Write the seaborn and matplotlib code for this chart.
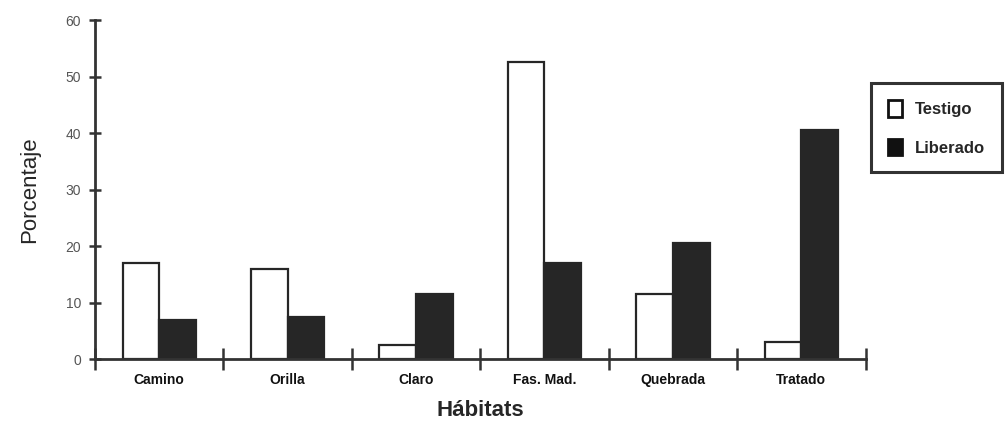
import pandas as pd
import numpy as np
import matplotlib
matplotlib.use('Agg')
import matplotlib.pyplot as plt
import seaborn as sns
from matplotlib.patches import Patch

# ── Data ──────────────────────────────────────────────────────────────────
habitats = ['Camino', 'Orilla', 'Claro', 'Fas. Mad.', 'Quebrada', 'Tratado']
testigo  = [17, 16, 2.5, 52.5, 11.5, 3]
liberado = [7, 7.5, 11.5, 17, 20.5, 40.5]
y_ticks  = [0, 10, 20, 30, 40, 50, 60]

df = pd.DataFrame({
    'habitat': habitats * 2,
    'grupo': ['Testigo'] * len(habitats) + ['Liberado'] * len(habitats),
    'pct': testigo + liberado,
})

sns.set_style('white')
plt.rcParams['font.family'] = ['Liberation Sans', 'DejaVu Sans']

fig = plt.figure(figsize=(10.06, 4.26), dpi=100)
ax = fig.add_axes([0.0944, 0.157, 0.766, 0.796])

sns.barplot(data=df, x='habitat', y='pct', hue='grupo', order=habitats,
            hue_order=['Testigo', 'Liberado'],
            palette={'Testigo': 'white', 'Liberado': '#262626'},
            width=0.57, gap=0, edgecolor='#262626', linewidth=1.6,
            legend=False, ax=ax)

ax.set_xlim(-0.5, len(habitats) - 0.5)
ax.set_ylim(0, 60)
ax.set_yticks(y_ticks)
ax.set_yticklabels([str(v) for v in y_ticks], fontsize=10, color='#555555')

# category labels on centers, tick marks on the boundaries
ax.tick_params(which='both', bottom=True, left=True)
ax.set_xticks(np.arange(len(habitats)))
ax.set_xticklabels(habitats, fontsize=10, fontweight='bold', color='#111111')
ax.tick_params(axis='x', which='major', length=0, pad=10)
ax.set_xticks(np.arange(-0.5, len(habitats)), minor=True)
ax.tick_params(axis='x', which='minor', direction='inout', length=16,
               width=1.8, color='#333333')
ax.tick_params(axis='y', direction='inout', length=8, width=1.8,
               color='#333333', pad=6)

for side in ['top', 'right']:
    ax.spines[side].set_visible(False)
for side in ['left', 'bottom']:
    ax.spines[side].set_linewidth(2)
    ax.spines[side].set_color('#333333')

ax.set_xlabel('Hábitats', fontsize=16, fontweight='bold', labelpad=9)
ax.set_ylabel('Porcentaje', fontsize=16, labelpad=18)

handles = [Patch(facecolor='white', edgecolor='#111111', linewidth=2, label='Testigo'),
           Patch(facecolor='#111111', edgecolor='#111111', linewidth=2, label='Liberado')]
leg = fig.legend(handles=handles, loc='upper left', bbox_to_anchor=(0.866, 0.805),
                 frameon=True, fancybox=False, edgecolor='black',
                 prop={'size': 12, 'weight': 'bold'},
                 handlelength=0.85, handleheight=1.19, handletextpad=0.8,
                 labelspacing=1.3, borderpad=1.0, borderaxespad=0)
leg.get_frame().set_linewidth(2.2)

plt.savefig('out.png', dpi=100)
plt.close()
